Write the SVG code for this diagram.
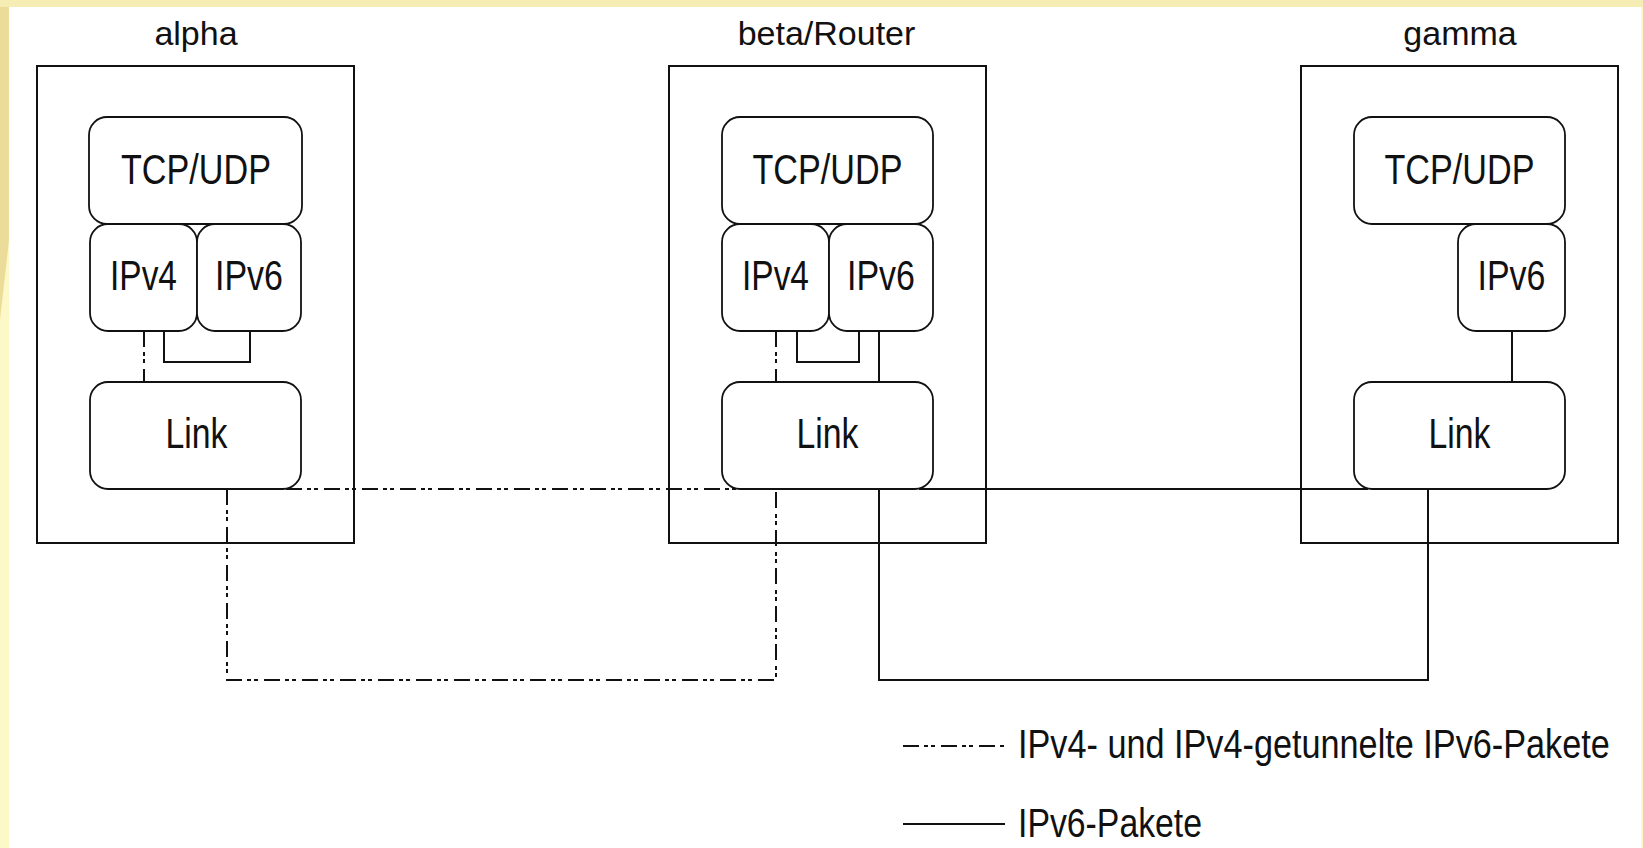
<svg xmlns="http://www.w3.org/2000/svg" width="1643" height="848" viewBox="0 0 1643 848">
<defs>
<style>
.frame{fill:none;stroke:#111;stroke-width:2}
.layer{fill:#fff;stroke:#111;stroke-width:1.8}
.lbl{font-family:"Liberation Sans",Arial,sans-serif;font-size:34px;fill:#111;text-anchor:middle}
.in{font-family:"Liberation Sans",Arial,sans-serif;font-size:42px;fill:#111;text-anchor:middle}
.leg{font-family:"Liberation Sans",Arial,sans-serif;font-size:40px;fill:#111}
.solid{fill:none;stroke:#111;stroke-width:2}
.dash{fill:none;stroke:#111;stroke-width:2;stroke-dasharray:16 5 4 3 4 6}
</style>
</defs>
<g id="background">
<rect x="0" y="0" width="1643" height="848" fill="#fdf8c8"/>
<polygon points="0,0 9,0 9,240 0,320" fill="#ecdc9a"/>
<rect x="0" y="0" width="1643" height="7" fill="#f6edb4"/>
<rect x="9" y="7" width="1632" height="841" fill="#ffffff"/>
</g>
<g id="alpha">
<rect class="frame" x="37" y="66" width="317" height="477"/>
<text class="lbl" x="196" y="45">alpha</text>
<rect id="alpha-tcp" class="layer" x="89" y="117" width="213" height="107" rx="18"/>
<text class="in" x="196" y="184" textLength="150" lengthAdjust="spacingAndGlyphs">TCP/UDP</text>
<rect id="alpha-ipv4" class="layer" x="90" y="224" width="107" height="107" rx="18"/>
<text class="in" x="143.5" y="290" textLength="67" lengthAdjust="spacingAndGlyphs">IPv4</text>
<rect id="alpha-ipv6" class="layer" x="197" y="224" width="104" height="107" rx="18"/>
<text class="in" x="249" y="290" textLength="68" lengthAdjust="spacingAndGlyphs">IPv6</text>
<rect id="alpha-link" class="layer" x="90" y="382" width="211" height="107" rx="18"/>
<text class="in" x="196.5" y="448" textLength="62" lengthAdjust="spacingAndGlyphs">Link</text>
</g>
<g id="beta">
<rect class="frame" x="669" y="66" width="317" height="477"/>
<text class="lbl" x="826.5" y="45">beta/Router</text>
<rect id="beta-tcp" class="layer" x="722" y="117" width="211" height="107" rx="18"/>
<text class="in" x="827.5" y="184" textLength="150" lengthAdjust="spacingAndGlyphs">TCP/UDP</text>
<rect id="beta-ipv4" class="layer" x="722" y="224" width="107" height="107" rx="18"/>
<text class="in" x="775.5" y="290" textLength="67" lengthAdjust="spacingAndGlyphs">IPv4</text>
<rect id="beta-ipv6" class="layer" x="829" y="224" width="104" height="107" rx="18"/>
<text class="in" x="881" y="290" textLength="68" lengthAdjust="spacingAndGlyphs">IPv6</text>
<rect id="beta-link" class="layer" x="722" y="382" width="211" height="107" rx="18"/>
<text class="in" x="827.5" y="448" textLength="62" lengthAdjust="spacingAndGlyphs">Link</text>
</g>
<g id="gamma">
<rect class="frame" x="1301" y="66" width="317" height="477"/>
<text class="lbl" x="1460" y="45">gamma</text>
<rect id="gamma-tcp" class="layer" x="1354" y="117" width="211" height="107" rx="18"/>
<text class="in" x="1459.5" y="184" textLength="150" lengthAdjust="spacingAndGlyphs">TCP/UDP</text>
<rect id="gamma-ipv6" class="layer" x="1458" y="224" width="107" height="107" rx="18"/>
<text class="in" x="1511.5" y="290" textLength="68" lengthAdjust="spacingAndGlyphs">IPv6</text>
<rect id="gamma-link" class="layer" x="1354" y="382" width="211" height="107" rx="18"/>
<text class="in" x="1459.5" y="448" textLength="62" lengthAdjust="spacingAndGlyphs">Link</text>
</g>
<g id="connectors">
<path class="dash" d="M144,331 V382"/>
<path class="solid" d="M164,331 V362 H250 V331"/>
<path class="dash" d="M776,331 V382"/>
<path class="solid" d="M797,331 V362 H859 V331"/>
<path class="solid" d="M879,331 V382"/>
<path class="solid" d="M1512,331 V382"/>
<path class="dash" d="M286,489 H736"/>
<path class="dash" d="M227,489 V680 H776 V489"/>
<path class="solid" d="M919,489 H1368"/>
<path class="solid" d="M879,489 V680 H1428 V489"/>
</g>
<g id="legend">
<path class="dash" d="M903,746 H1007"/>
<text class="leg" transform="translate(1018,758) scale(0.856,1)" x="0" y="0">IPv4- und IPv4-getunnelte IPv6-Pakete</text>
<path class="solid" d="M903,824 H1005"/>
<text class="leg" transform="translate(1018,837) scale(0.845,1)" x="0" y="0">IPv6-Pakete</text>
</g>
</svg>
